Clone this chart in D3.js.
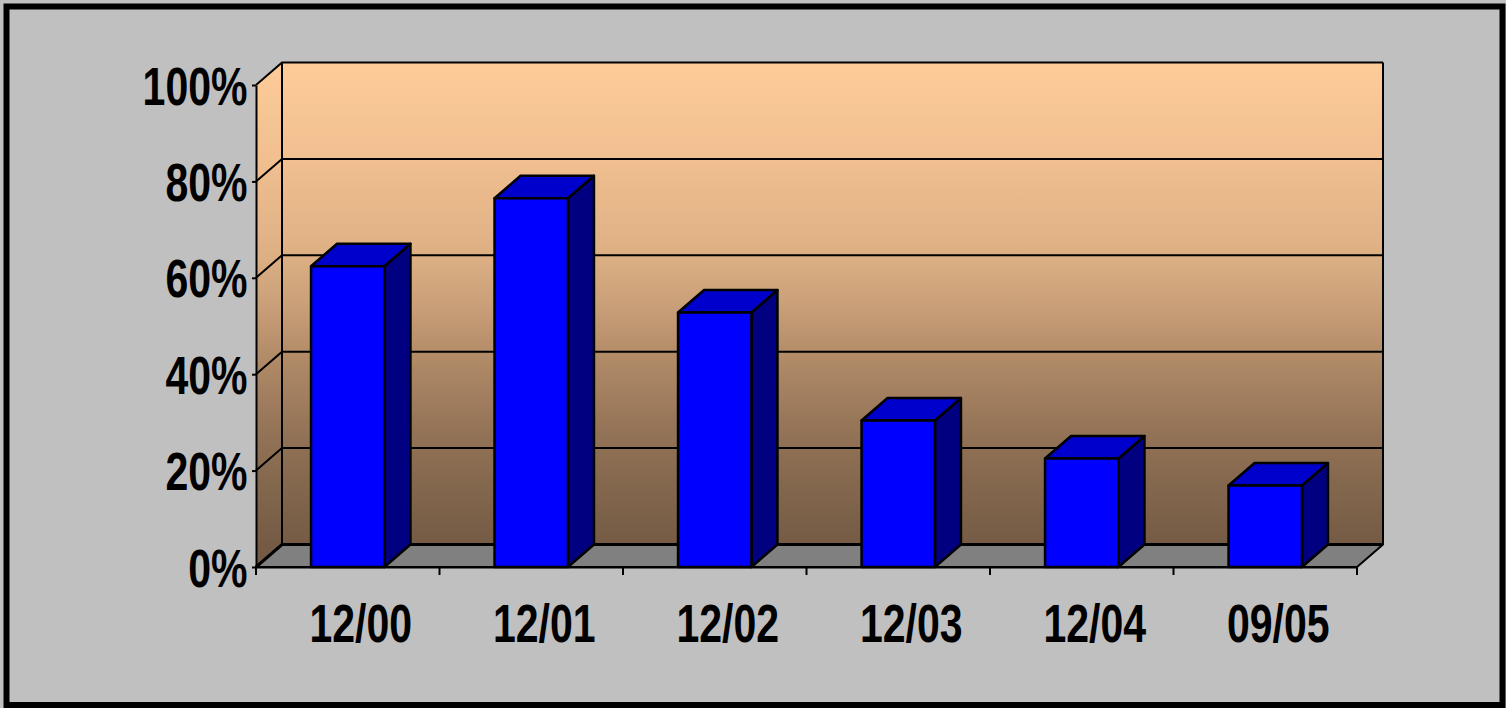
<!DOCTYPE html>
<html>
<head>
<meta charset="utf-8">
<script src="https://cdn.jsdelivr.net/npm/d3@7"></script>
<style>
  html, body { margin: 0; padding: 0; background: #c0c0c0; }
  svg { display: block; }
</style>
</head>
<body>
<svg id="chart" width="1506" height="708"></svg>
<script>
// Share by period
const categories = ["12/00", "12/01", "12/02", "12/03", "12/04", "09/05"];
const values = [0.624, 0.765, 0.528, 0.304, 0.225, 0.169];
const yTicks = [0, 0.2, 0.4, 0.6, 0.8, 1];
const yTickLabels = ["0%", "20%", "40%", "60%", "80%", "100%"];

const svg = d3.select("#chart");

// front plane of the plot
const plotLeft = 256, plotRight = 1357, plotTop = 85, plotBottom = 567;
// depth offset of the 3D box
const dx = 26, dy = -22.5;

const x = d3.scaleBand().domain(categories).range([plotLeft, plotRight])
  .paddingInner(0.6).paddingOuter(0.3);
const y = d3.scaleLinear().domain([0, 1]).range([plotBottom, plotTop]);

// frame
svg.append("rect")
  .attr("x", 6.5).attr("y", 6.5).attr("width", 1496).attr("height", 698.5)
  .attr("fill", "#c0c0c0").attr("stroke", "#000").attr("stroke-width", 6);

// wall gradient
const defs = svg.append("defs");
const grad = defs.append("linearGradient").attr("id", "wallGrad")
  .attr("gradientUnits", "userSpaceOnUse")
  .attr("x1", 0).attr("x2", 0).attr("y1", y(1) + dy).attr("y2", y(0) + dy);
[[0, "#fdcc99"], [0.2, "#f1bf90"], [0.4, "#ddb084"], [0.5, "#caa079"],
 [0.6, "#b48d69"], [0.75, "#967558"], [0.87, "#84684e"], [1, "#755b45"]]
  .forEach(([o, c]) => grad.append("stop").attr("offset", o).attr("stop-color", c));

const line = d3.line();
const bx0 = plotLeft + dx, bx1 = plotRight + dx;

// side wall
svg.append("path")
  .attr("d", line([[plotLeft, y(1)], [bx0, y(1) + dy], [bx0, y(0) + dy], [plotLeft, y(0)]]) + "Z")
  .attr("fill", "url(#wallGrad)");
// back wall
svg.append("rect")
  .attr("x", bx0).attr("y", y(1) + dy)
  .attr("width", bx1 - bx0).attr("height", y(0) - y(1))
  .attr("fill", "url(#wallGrad)");
// floor
svg.append("path")
  .attr("d", line([[plotLeft, y(0)], [bx0, y(0) + dy], [bx1, y(0) + dy], [plotRight, y(0)]]) + "Z")
  .attr("fill", "#808080").attr("stroke", "#000").attr("stroke-width", 2)
  .attr("stroke-linejoin", "round");

// gridlines on side and back walls
const grid = svg.append("g").attr("stroke", "#000").attr("stroke-width", 2).attr("fill", "none");
yTicks.forEach(t => {
  grid.append("path").attr("d", line([[plotLeft, y(t)], [bx0, y(t) + dy], [bx1, y(t) + dy]]))
    .attr("stroke-width", t === 0 ? 3 : 2);
});
// wall edges
grid.append("path").attr("d", line([[bx0, y(0) + dy], [bx0, y(1) + dy]]));
grid.append("path").attr("d", line([[bx1, y(0) + dy], [bx1, y(1) + dy]]));

// bars
const bw = x.bandwidth();
const bars = svg.append("g").attr("stroke", "#000").attr("stroke-width", 2.5)
  .attr("stroke-linejoin", "round");
categories.forEach((c, i) => {
  const x0 = x(c), x1 = x0 + bw, yv = y(values[i]), y0 = y(0);
  const g = bars.append("g");
  g.append("path").attr("fill", "#000080")
    .attr("d", line([[x1, yv], [x1 + dx, yv + dy], [x1 + dx, y0 + dy], [x1, y0]]) + "Z");
  g.append("path").attr("fill", "#0000cc")
    .attr("d", line([[x0, yv], [x0 + dx, yv + dy], [x1 + dx, yv + dy], [x1, yv]]) + "Z");
  g.append("rect").attr("fill", "#0000ff")
    .attr("x", x0).attr("y", yv).attr("width", bw).attr("height", y0 - yv);
});

const fontFamily = "'Liberation Sans', Arial, sans-serif";

// value axis
const yAxis = svg.append("g").attr("transform", `translate(${plotLeft},0)`)
  .call(d3.axisLeft(y).tickValues(yTicks).tickSize(4).tickSizeOuter(0)
    .tickFormat((d, i) => yTickLabels[i]));
yAxis.select(".domain").attr("stroke", "#000").attr("stroke-width", 2);
yAxis.selectAll(".tick line").attr("stroke", "#000").attr("stroke-width", 2);
yAxis.selectAll(".tick text")
  .attr("x", 0).attr("dy", null).attr("y", 19)
  .attr("transform", "translate(-8.5,0) scale(0.76,1)")
  .attr("fill", "#000").attr("font-family", fontFamily)
  .attr("font-weight", "bold").attr("font-size", 54).attr("text-anchor", "end");

// category axis
const xAxis = svg.append("g").attr("transform", `translate(0,${plotBottom})`)
  .call(d3.axisBottom(x).tickSize(0).tickPadding(0));
xAxis.select(".domain").attr("stroke", "#000").attr("stroke-width", 2);
xAxis.selectAll(".tick text")
  .attr("y", 0).attr("dy", null)
  .attr("transform", "translate(13,75) scale(0.76,1)")
  .attr("fill", "#000").attr("font-family", fontFamily)
  .attr("font-weight", "bold").attr("font-size", 54).attr("text-anchor", "middle");

// category boundary ticks
const step = x.step();
const bounds = d3.range(categories.length + 1).map(i => plotLeft + i * step);
xAxis.append("g").selectAll("line").data(bounds).join("line")
  .attr("x1", d => d).attr("x2", d => d).attr("y1", 0).attr("y2", 8)
  .attr("stroke", "#000").attr("stroke-width", 2);
</script>
</body>
</html>
